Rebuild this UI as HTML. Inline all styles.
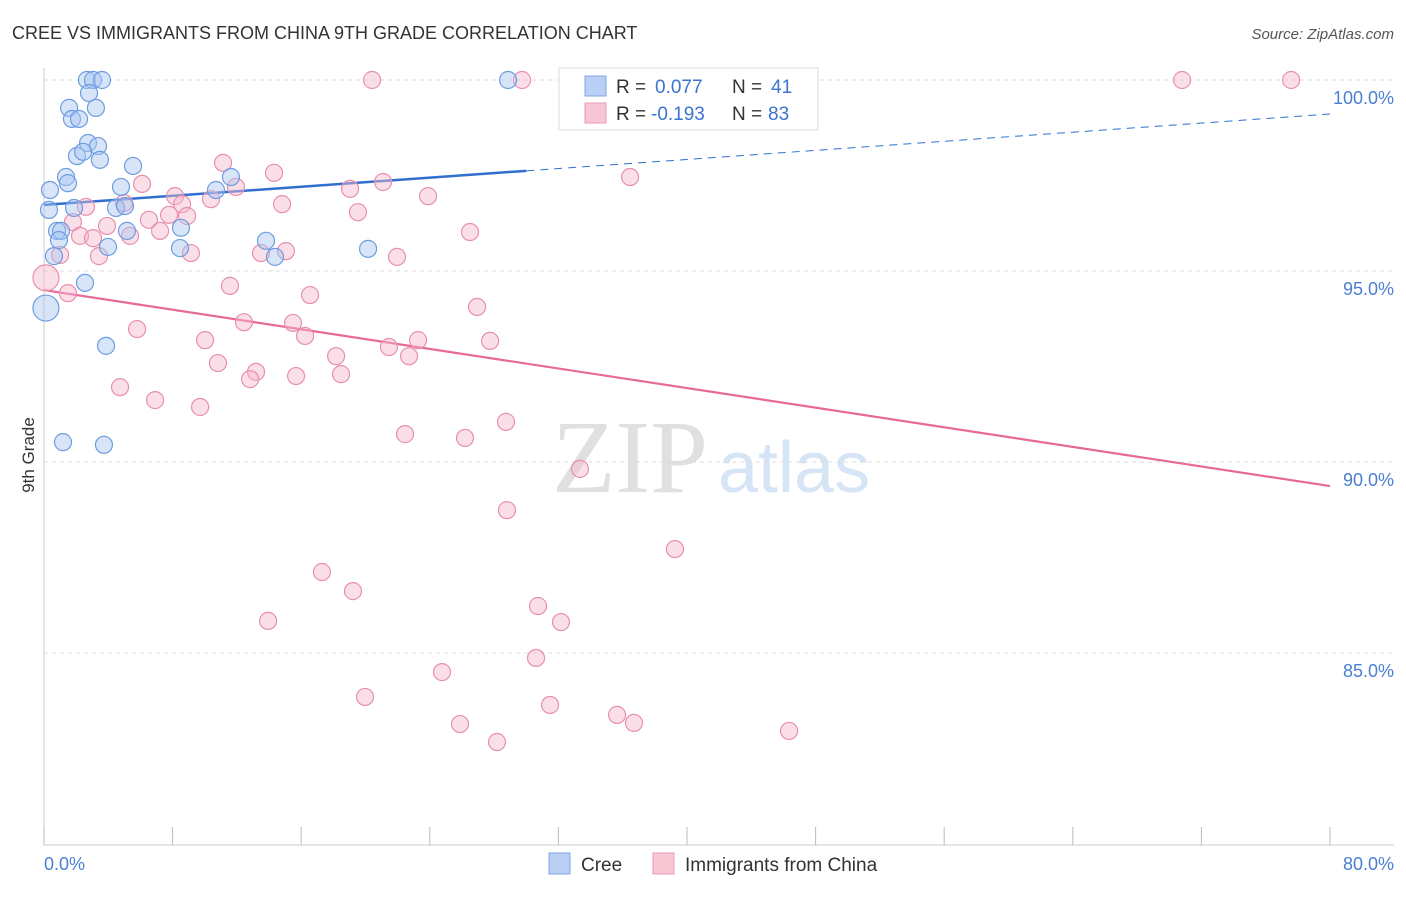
<!DOCTYPE html>
<html><head><meta charset="utf-8"><style>
body{margin:0;background:#fff;font-family:"Liberation Sans",sans-serif;}
svg text{font-family:"Liberation Sans",sans-serif;}
svg text.serif{font-family:"Liberation Serif",serif;}
</style></head><body>
<svg id="chart" width="1406" height="892" xmlns="http://www.w3.org/2000/svg">
<text x="12" y="39" font-size="18" fill="#333">CREE VS IMMIGRANTS FROM CHINA 9TH GRADE CORRELATION CHART</text>
<text x="1394" y="39" font-size="15" fill="#555" font-style="italic" text-anchor="end">Source: ZipAtlas.com</text>
<g>
<text class="serif" x="552" y="492" font-size="104" fill="#e0e0e0">ZIP</text>
<text x="718" y="492" font-size="72" fill="#d6e5f5">atlas</text>
</g>
<g id="grid"></g><g id="axes"></g><g id="trends"></g><g id="pts"></g>
<text transform="translate(34,455) rotate(-90)" font-size="17" fill="#333" text-anchor="middle">9th Grade</text>
<text x="44" y="870" font-size="18" fill="#4a7fd4">0.0%</text>
<text x="1394" y="870" font-size="18" fill="#4a7fd4" text-anchor="end">80.0%</text>
<g>
<rect x="559" y="68" width="259" height="62" fill="#fff" stroke="#ddd"/>
<rect x="585" y="76" width="21" height="20" fill="#b9cff3" stroke="#7ea6e3"/>
<rect x="585" y="103" width="21" height="20" fill="#f8c6d5" stroke="#eb9ab3"/>
<text x="616" y="93" font-size="19" fill="#333">R = </text><text x="655" y="93" font-size="19" fill="#3a74d0">0.077</text>
<text x="732" y="93" font-size="19" fill="#333">N = </text><text x="771" y="93" font-size="19" fill="#3a74d0">41</text>
<text x="616" y="120" font-size="19" fill="#333">R = </text><text x="651" y="120" font-size="19" fill="#3a74d0">-0.193</text>
<text x="732" y="120" font-size="19" fill="#333">N = </text><text x="768" y="120" font-size="19" fill="#3a74d0">83</text>
</g>
<g>
<rect x="549" y="853" width="21" height="21" fill="#b9cff3" stroke="#7ea6e3"/>
<text x="581" y="871" font-size="19" fill="#333">Cree</text>
<rect x="653" y="853" width="21" height="21" fill="#f8c6d5" stroke="#eb9ab3"/>
<text x="685" y="871" font-size="19" fill="#333">Immigrants from China</text>
</g>
</svg>
<script>
const yTicks=[100,95,90,85];
const yTickLabels=["100.0%","95.0%","90.0%","85.0%"];
const xTicks=[0,8,16,24,32,40,48,56,64,72,80];
const creeX=[2.67,3.05,3.61,28.87,2.80,1.56,3.23,1.74,2.18,2.74,3.36,2.05,2.43,3.48,5.54,1.37,1.49,4.79,10.70,0.37,11.63,1.87,0.31,4.48,5.04,0.81,1.06,5.16,8.52,0.93,0.62,3.98,8.46,13.81,14.37,20.16,2.55,0.12,3.86,1.18,3.73];
const creeY=[100,100,100,100,99.66,99.27,99.27,98.98,98.98,98.35,98.27,98.01,98.12,97.91,97.75,97.46,97.30,97.20,97.12,97.12,97.46,96.65,96.60,96.65,96.70,96.05,96.05,96.05,96.13,95.81,95.39,95.63,95.60,95.79,95.37,95.58,94.69,94.03,93.04,90.52,90.45];
const chinaX=[20.41,29.74,32.97,70.80,77.58,11.14,14.31,6.10,21.09,19.04,23.89,36.46,11.94,8.15,8.59,10.39,2.61,14.81,19.53,4.98,6.53,7.78,8.90,1.80,7.22,26.50,2.24,3.05,3.92,5.35,9.14,13.50,15.05,21.96,1.00,3.42,0.12,1.49,11.57,16.55,26.94,5.79,12.44,15.49,16.24,10.02,21.46,23.27,27.75,18.17,22.71,10.82,13.19,12.82,15.68,18.48,4.73,6.91,9.71,22.46,26.19,28.74,33.34,28.80,39.25,17.29,19.22,30.73,13.94,32.16,30.61,24.76,19.97,31.48,35.65,25.88,36.70,28.18,46.35];
const chinaY=[100,100,100,100,100,97.83,97.57,97.28,97.33,97.15,96.96,97.46,97.20,96.96,96.75,96.88,96.68,96.75,96.54,96.78,96.34,96.47,96.44,96.28,96.05,96.02,95.92,95.86,96.18,95.92,95.47,95.47,95.52,95.37,95.42,95.39,94.82,94.42,94.61,94.37,94.06,93.48,93.66,93.64,93.30,93.19,93.01,93.19,93.17,92.77,92.77,92.59,92.36,92.17,92.25,92.30,91.96,91.62,91.44,90.73,90.63,91.05,89.82,88.74,87.72,87.12,86.62,86.23,85.84,85.81,84.87,84.50,83.85,83.64,83.38,83.14,83.17,82.67,82.96];
const creeTrend=[96.73,99.11];
const creeSolidEnd=30;
const chinaTrend=[94.50,89.37];
const X=v=>44+v/80*1286;
const Y=v=>80+(100-v)/5*191;
const NS="http://www.w3.org/2000/svg";
function mk(tag,attrs,parent){const e=document.createElementNS(NS,tag);for(const k in attrs)e.setAttribute(k,attrs[k]);document.getElementById(parent).appendChild(e);return e;}
yTicks.forEach((t,i)=>{
 const l=mk('line',{x1:44,x2:1394,y1:Y(t),y2:Y(t),stroke:'#ddd','stroke-dasharray':'4,4'},'grid');
 
 
 const tx=mk('text',{x:1394,y:Y(t)+24,'font-size':18,fill:'#4a7fd4','text-anchor':'end'},'grid');
 tx.textContent=yTickLabels[i];
 
 
});
const ax=mk('line',{x1:44,x2:44,y1:68,y2:845,stroke:'#ccc'},'axes');


const bx=mk('line',{x1:44,x2:1394,y1:845,y2:845,stroke:'#ccc'},'axes');


xTicks.forEach(t=>{
 const l=mk('line',{x1:X(t),x2:X(t),y1:827,y2:845,stroke:'#bbb'},'axes');
 
 
});
function pts(xs,ys,fill,stroke,name){
 xs.forEach((x,i)=>{
  const big=(name==='china-point'&&i===36)||(name==='cree-point'&&i===37);
  const c=mk('circle',{cx:X(x),cy:Y(ys[i]),r:big?13:8.5,fill:fill,'fill-opacity':0.45,stroke:stroke,'stroke-width':1.2},'pts');
  
  
 });
}
pts(chinaX,chinaY,'#f6b8cb','#e890ab','china-point');
pts(creeX,creeY,'#a9c5f1','#6d9de0','cree-point');
const slope=(creeTrend[1]-creeTrend[0])/80;
const t1=mk('line',{x1:X(0),y1:Y(creeTrend[0]),x2:X(creeSolidEnd),y2:Y(creeTrend[0]+slope*creeSolidEnd),stroke:'#2f6fd0','stroke-width':2.5},'trends');


const t2=mk('line',{x1:X(creeSolidEnd),y1:Y(creeTrend[0]+slope*creeSolidEnd),x2:X(80),y2:Y(creeTrend[1]),stroke:'#2f6fd0','stroke-width':1,'stroke-dasharray':'8,6'},'trends');


const t3=mk('line',{x1:X(0),y1:Y(chinaTrend[0]),x2:X(80),y2:Y(chinaTrend[1]),stroke:'#e8689a','stroke-width':2.2},'trends');


</script>
</body></html>
